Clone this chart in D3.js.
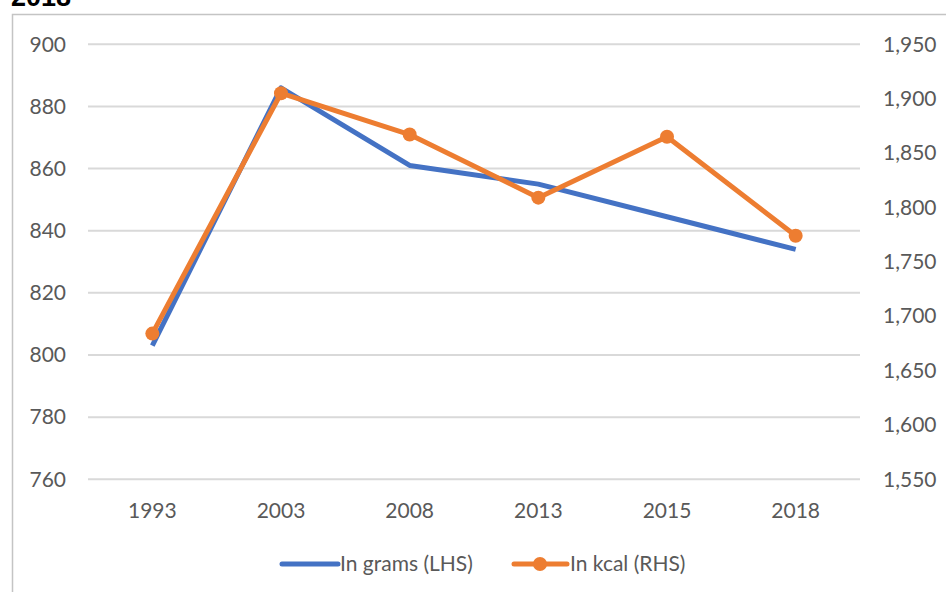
<!DOCTYPE html>
<html><head><meta charset="utf-8">
<script src="https://cdn.jsdelivr.net/npm/d3@7"></script>
<style>body{margin:0;background:#fff;} svg{display:block;}</style>
</head><body>
<svg id="c" width="946" height="592"></svg>
<script>
const years = ["1993","2003","2008","2013","2015","2018"];
const grams = [803, 886, 861, 855, 844.5, 834];
const kcal = [1684, 1905, 1867, 1809, 1865, 1774];
const leftTicks = [760,780,800,820,840,860,880,900];
const rightTicks = [1550,1600,1650,1700,1750,1800,1850,1900,1950];
const seriesNames = ["In grams (LHS)", "In kcal (RHS)"];

const svg = d3.select("#c");
const font = "Lato, 'Open Sans', sans-serif";
const fs = "21px";
const plot = {l: 88, r: 860, t: 44.3, b: 479.3};

svg.append("text").attr("x", 11).attr("y", 6).text("2018")
  .style("font-family","'Liberation Sans', Arial, sans-serif").style("font-weight","bold")
  .style("font-size","27px").attr("fill","#000");

svg.append("path").attr("d", "M12.5,600 L12.5,14.5 L960,14.5")
  .attr("fill","none").attr("stroke","#c4c4c4").attr("stroke-width",1.5);

const x = d3.scaleBand().domain(years).range([plot.l, plot.r]);
const yL = d3.scaleLinear().domain([760,900]).range([plot.b, plot.t]);
const yR = d3.scaleLinear().domain([1550,1950]).range([plot.b, plot.t]);
const cx = d => x(d) + x.bandwidth()/2;

// gridlines
svg.append("g").selectAll("line").data(leftTicks).join("line")
  .attr("x1", plot.l).attr("x2", plot.r)
  .attr("y1", d => yL(d)).attr("y2", d => yL(d))
  .attr("stroke","#d9d9d9").attr("stroke-width",2);

// left axis
const gl = svg.append("g").attr("transform",`translate(${plot.l},0)`)
  .call(d3.axisLeft(yL).tickValues(leftTicks).tickSize(0).tickPadding(22));
gl.select(".domain").remove();
gl.selectAll("text").style("font-family",font).style("font-size",fs).attr("fill","#595959");

// right axis
const gr = svg.append("g").attr("transform",`translate(${plot.r},0)`)
  .call(d3.axisRight(yR).tickValues(rightTicks).tickSize(0).tickPadding(23).tickFormat(d3.format(",")));
gr.select(".domain").remove();
gr.selectAll("text").style("font-family",font).style("font-size",fs).attr("fill","#595959");

// x axis
const gx = svg.append("g").attr("transform",`translate(0,${plot.b})`)
  .call(d3.axisBottom(x).tickSize(0).tickPadding(24));
gx.select(".domain").remove();
gx.selectAll("text").style("font-family",font).style("font-size",fs).attr("fill","#595959");

const blue = "#4472C4", orange = "#ED7D31";

svg.append("path").datum(grams.map((v,i)=>[cx(years[i]), yL(v)]))
  .attr("d", d3.line()).attr("fill","none").attr("stroke",blue)
  .attr("stroke-width",5).attr("stroke-linejoin","round");

svg.append("path").datum(kcal.map((v,i)=>[cx(years[i]), yR(v)]))
  .attr("d", d3.line()).attr("fill","none").attr("stroke",orange)
  .attr("stroke-width",5).attr("stroke-linejoin","round");
svg.append("g").selectAll("circle").data(kcal).join("circle")
  .attr("cx",(d,i)=>cx(years[i])).attr("cy",d=>yR(d)).attr("r",7).attr("fill",orange);

// legend
const lg = svg.append("g");
lg.append("line").attr("x1",282).attr("x2",338).attr("y1",564).attr("y2",564)
  .attr("stroke",blue).attr("stroke-width",5).attr("stroke-linecap","round");
lg.append("text").attr("x",340).attr("y",571).text(seriesNames[0])
  .style("font-family",font).style("font-size",fs).attr("fill","#595959");
lg.append("line").attr("x1",514).attr("x2",567).attr("y1",564).attr("y2",564)
  .attr("stroke",orange).attr("stroke-width",5).attr("stroke-linecap","round");
lg.append("circle").attr("cx",540).attr("cy",564).attr("r",7).attr("fill",orange);
lg.append("text").attr("x",570).attr("y",571).text(seriesNames[1])
  .style("font-family",font).style("font-size",fs).attr("fill","#595959");
</script>
</body></html>
